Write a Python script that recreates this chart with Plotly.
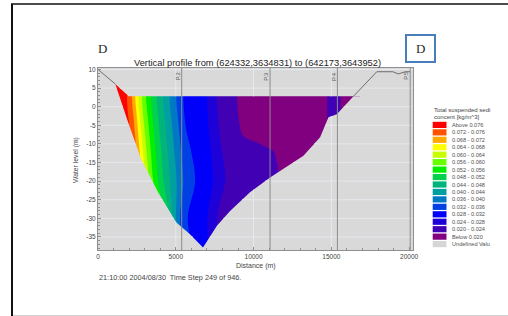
import numpy as np
import plotly.graph_objects as go

# ---------------- data ----------------
# concentration grid (kg/m^3): columns = distance (m), rows = water level (m)
x_grid = [800, 1490, 2060, 2295, 2490, 2690, 2940, 3235, 3575, 3965, 4395, 4820, 5250, 5660,
          6850, 7300, 7845, 8640, 9335, 10425, 11420, 12410, 13405, 14400, 14895, 15390, 15890, 16880]
y_grid = [-39, -30, -20, -12, -5, 2.8, 8]

conc_m39 = [0.082, 0.082, 0.080, 0.078, 0.0765, 0.074, 0.070, 0.066, 0.062, 0.056, 0.050, 0.044, 0.038, 0.0335,
            0.0295, 0.0268, 0.0230, 0.0220, 0.0215, 0.0210, 0.0210, 0.0205, 0.019, 0.019, 0.021, 0.021, 0.0185, 0.018]
conc_m30 = [0.082, 0.082, 0.080, 0.078, 0.0765, 0.074, 0.070, 0.066, 0.062, 0.056, 0.050, 0.0431, 0.0362, 0.0323,
            0.0290, 0.0265, 0.0228, 0.0220, 0.0215, 0.0210, 0.0210, 0.0205, 0.019, 0.019, 0.021, 0.021, 0.0185, 0.018]
conc_m20 = [0.082, 0.082, 0.080, 0.078, 0.0762, 0.0709, 0.0662, 0.0604, 0.0555, 0.0506, 0.0462, 0.0422, 0.0382, 0.0343,
            0.0296, 0.0285, 0.0254, 0.0221, 0.0215, 0.0210, 0.0205, 0.019, 0.018, 0.018, 0.021, 0.021, 0.0185, 0.018]
conc_m12 = [0.082, 0.082, 0.078, 0.0762, 0.0717, 0.0678, 0.063, 0.0582, 0.0535, 0.049, 0.0448, 0.0408, 0.0368, 0.033,
            0.0294, 0.0279, 0.0244, 0.0219, 0.0212, 0.0206, 0.0199, 0.018, 0.017, 0.018, 0.021, 0.021, 0.0185, 0.018]
conc_m5 = [0.082, 0.081, 0.0756, 0.0726, 0.069, 0.065, 0.0604, 0.0562, 0.0518, 0.0475, 0.0434, 0.0394, 0.0354, 0.0318,
           0.0292, 0.0270, 0.0235, 0.0217, 0.0192, 0.0185, 0.0168, 0.016, 0.017, 0.018, 0.021, 0.021, 0.0185, 0.018]
conc_surface = [0.082, 0.080, 0.074, 0.070, 0.066, 0.062, 0.058, 0.054, 0.050, 0.046, 0.042, 0.038, 0.034, 0.0305,
                0.0290, 0.0260, 0.0225, 0.0215, 0.018, 0.017, 0.016, 0.016, 0.017, 0.018, 0.021, 0.021, 0.0185, 0.018]
conc_p8 = [0.084, 0.082, 0.0765, 0.0715, 0.067, 0.063, 0.059, 0.055, 0.051, 0.047, 0.043, 0.039, 0.035, 0.031,
           0.029, 0.026, 0.0225, 0.0215, 0.018, 0.017, 0.016, 0.016, 0.017, 0.018, 0.021, 0.021, 0.0185, 0.018]

# contour classes
level_start, level_end, level_step = 0.020, 0.076, 0.004
band_colors = ['#800080', '#4200b4', '#1e00d8', '#0000fa', '#0040e4', '#0078c4', '#00a0a0', '#00b47c',
               '#00d24c', '#00f000', '#66ff00', '#c8ff00', '#ffff00', '#ffa800', '#ff5200', '#ff0000']
legend_labels = ['Above 0.076', '0.072 - 0.076', '0.068 - 0.072', '0.064 - 0.068', '0.060 - 0.064',
                 '0.056 - 0.060', '0.052 - 0.056', '0.048 - 0.052', '0.044 - 0.048', '0.040 - 0.044',
                 '0.036 - 0.040', '0.032 - 0.036', '0.028 - 0.032', '0.024 - 0.028', '0.020 - 0.024',
                 'Below 0.020', 'Undefined Valu']
undefined_color = '#d6d6d6'

# wetted section: bed from left tip, down to deepest point, up to right waterline
bed_x = [1112, 1936, 2780, 3863, 5035, 5898, 6752, 7646, 8490, 9771, 11062, 13207, 14279, 14815, 15352, 16424]
bed_y = [6.1, -4.2, -14.1, -23.0, -31.1, -34.2, -37.8, -32.0, -28.0, -23.0, -19.0, -13.2, -8.2, -2.8, -2.0, 2.8]
top_x = [1112, 1976, 16424]
top_y = [6.1, 2.8, 2.8]
# dry banks
shore_left_x = [0, 1112]
shore_left_y = [10.0, 6.1]
shore_right_x = [16424, 17923, 18960, 19300, 19760, 20070]
shore_right_y = [2.8, 9.4, 9.4, 8.8, 9.4, 9.4]

# profile points
p_x = [5380, 11060, 15390, 20070]
p_names = ['P.2', 'P.3', 'P.4', 'P.5']

x_ticks = [0, 5000, 10000, 15000, 20000]
y_ticks = [-35, -30, -25, -20, -15, -10, -5, 0, 5, 10]
x_range = [0, 20250]
y_range = [-38.5, 10.4]

title_text = 'Vertical profile from (624332,3634831) to (642173,3643952)'
time_text = '21:10:00 2004/08/30  Time Step 249 of 946.'

# ---------------- layout geometry (pixels) ----------------
L, T, W, H = 98, 68, 315, 182
FIG_W, FIG_H = 508, 316
BG = '#d9d9d9'
GRID = '#e6e8ef'


def fx(px):
    return (px - L) / W


def fy(py):
    return (T + H - py) / H


fig = go.Figure()

# concentration field
z = [conc_m39, conc_m30, conc_m20, conc_m12, conc_m5, conc_surface, conc_p8]
n = len(band_colors)
colorscale = [[k / (n - 1), c] for k, c in enumerate(band_colors)]
fig.add_trace(go.Contour(
    x=x_grid, y=y_grid, z=z,
    autocontour=False,
    contours=dict(start=level_start, end=level_end + level_step / 40, size=level_step,
                  coloring='fill', showlines=False),
    colorscale=colorscale, showscale=False, line=dict(width=0),
    hoverinfo='skip'))

# mask everything outside the wetted section
bi = int(np.argmin(bed_y))
lb_x, lb_y = bed_x[:bi + 1], bed_y[:bi + 1]
rb_x, rb_y = bed_x[bi:], bed_y[bi:]
far_x0, far_x1 = x_range[0] - 3000, x_range[1] + 3000
far_y0, far_y1 = y_range[0] - 10, y_range[1] + 10

maskA_x = [far_x0, far_x0, far_x1, far_x1] + top_x[::-1] + lb_x[1:] + [bed_x[bi] + 150]
maskA_y = [far_y0, far_y1, far_y1, top_y[-1]] + top_y[::-1] + lb_y[1:] + [far_y0]
maskB_x = [bed_x[bi] - 150] + rb_x + [far_x1, far_x1]
maskB_y = [far_y0] + rb_y + [top_y[-1], far_y0]
for mx, my in [(maskA_x, maskA_y), (maskB_x, maskB_y)]:
    fig.add_trace(go.Scatter(x=mx, y=my, fill='toself', fillcolor=BG, mode='lines',
                             line=dict(width=0, color=BG), hoverinfo='skip'))

# grid lines outside the wetted section
gx, gy = [], []
lb_yi, lb_xi = lb_y[::-1], lb_x[::-1]
for yv in y_ticks:
    if yv > top_y[0] or yv < min(bed_y):
        segs = [(x_range[0], x_range[1])]
    else:
        xl = float(np.interp(yv, lb_yi, lb_xi))
        if yv > top_y[-1]:
            xr = float(np.interp(yv, top_y[1::-1], top_x[1::-1]))
        else:
            xr = float(np.interp(yv, rb_y, rb_x))
        segs = [(x_range[0], xl), (xr, x_range[1])]
    for a, b in segs:
        gx += [a, b, None]
        gy += [yv, yv, None]
for xv in x_ticks[1:-1]:
    if bed_x[0] < xv < bed_x[-1]:
        yb = float(np.interp(xv, lb_xi[::-1], lb_yi[::-1])) if xv <= bed_x[bi] else float(np.interp(xv, rb_x, rb_y))
        yt = float(np.interp(xv, top_x, top_y))
        segs = [(y_range[0], yb), (yt, y_range[1])]
    else:
        segs = [(y_range[0], y_range[1])]
    for a, b in segs:
        gx += [xv, xv, None]
        gy += [a, b, None]
fig.add_trace(go.Scatter(x=gx, y=gy, mode='lines', line=dict(color=GRID, width=1),
                         hoverinfo='skip'))

# dry bank profile
for sx, sy in [(shore_left_x, shore_left_y), (shore_right_x, shore_right_y)]:
    fig.add_trace(go.Scatter(x=sx, y=sy, mode='lines', line=dict(color='#6e6e6e', width=1),
                             hoverinfo='skip'))

shapes = []
annotations = []

# profile point lines and labels
for px_, name in zip(p_x, p_names):
    shapes.append(dict(type='line', xref='x', yref='paper', x0=px_, x1=px_, y0=0, y1=1,
                       line=dict(color='#8c8c8c', width=1), layer='above'))
    annotations.append(dict(x=px_ - 230, y=8.2, xref='x', yref='y', text=name, showarrow=False,
                            textangle=-90, font=dict(size=5.8, color='#555555', family='Arial')))

# titles / texts
annotations += [
    dict(x=fx(257), y=fy(63), xref='paper', yref='paper', text=title_text, showarrow=False,
         font=dict(size=9.3, color='#222222', family='Arial'), xanchor='center', yanchor='middle'),
    dict(x=fx(255.5), y=fy(266), xref='paper', yref='paper', text='Distance (m)', showarrow=False,
         font=dict(size=7, color='#444444', family='Arial'), xanchor='center', yanchor='middle'),
    dict(x=fx(76), y=fy(160), xref='paper', yref='paper', text='Water level (m)', showarrow=False,
         textangle=-90, font=dict(size=6.8, color='#444444', family='Arial'),
         xanchor='center', yanchor='middle'),
    dict(x=fx(97), y=fy(277), xref='paper', yref='paper', text=time_text, showarrow=False,
         font=dict(size=7.3, color='#444444', family='Arial'), xanchor='left', yanchor='middle'),
    dict(x=fx(102), y=fy(48.5), xref='paper', yref='paper', text='D', showarrow=False,
         font=dict(size=13, color='#2a2a2a', family='Liberation Serif'), xanchor='center', yanchor='middle'),
    dict(x=fx(420.5), y=fy(48.5), xref='paper', yref='paper', text='D', showarrow=False,
         font=dict(size=13, color='#2a2a2a', family='Liberation Serif'), xanchor='center', yanchor='middle'),
    dict(x=fx(432), y=fy(110), xref='paper', yref='paper', text='Total suspended sedi', showarrow=False,
         font=dict(size=6, color='#444444', family='Arial'), xanchor='left', yanchor='middle'),
    dict(x=fx(432), y=fy(116.5), xref='paper', yref='paper', text='concent [kg/m^3]', showarrow=False,
         font=dict(size=6, color='#444444', family='Arial'), xanchor='left', yanchor='middle'),
]

# legend boxes
legend_colors = band_colors[::-1] + [undefined_color]
for i, (lab, col) in enumerate(zip(legend_labels, legend_colors)):
    top = 121.8 + 7.45 * i
    bot = top + 6.2
    shapes.append(dict(type='rect', xref='paper', yref='paper', x0=fx(432.7), x1=fx(446.5),
                       y0=fy(bot), y1=fy(top), fillcolor=col, line=dict(width=0), layer='above'))
    annotations.append(dict(x=fx(450), y=fy((top + bot) / 2), xref='paper', yref='paper', text=lab,
                            showarrow=False, xanchor='left', yanchor='middle',
                            font=dict(size=5.6, color='#505050', family='Arial')))

# boxed D and the outer frame
shapes.append(dict(type='rect', xref='paper', yref='paper', x0=fx(406), x1=fx(435), y0=fy(62), y1=fy(35),
                   line=dict(color='#4a7ebb', width=2), fillcolor='rgba(0,0,0,0)', layer='above'))
shapes.append(dict(type='line', xref='paper', yref='paper', x0=fx(12), x1=fx(12), y0=fy(4), y1=fy(330),
                   line=dict(color='#111111', width=2), layer='above'))
shapes.append(dict(type='line', xref='paper', yref='paper', x0=fx(11), x1=fx(540), y0=fy(4), y1=fy(4),
                   line=dict(color='#111111', width=1.5), layer='above'))
shapes.append(dict(type='line', xref='paper', yref='paper', x0=fx(13), x1=fx(540), y0=fy(315.5), y1=fy(315.5),
                   line=dict(color='#d0d0d0', width=1), layer='above'))

axis_common = dict(showgrid=False, zeroline=False, showline=True, mirror=True, linecolor='#8f8f8f',
                   linewidth=1, ticks='inside', ticklen=3, tickcolor='#8f8f8f',
                   tickfont=dict(size=6.5, color='#444444', family='Arial'))
fig.update_layout(
    width=FIG_W, height=FIG_H,
    margin=dict(l=L, r=FIG_W - L - W, t=T, b=FIG_H - T - H, pad=0),
    paper_bgcolor='white', plot_bgcolor=BG,
    showlegend=False, hovermode=False,
    shapes=shapes, annotations=annotations,
    xaxis=dict(range=x_range, tickvals=x_ticks, ticktext=[str(v) for v in x_ticks],
               minor=dict(ticks='inside', dtick=1000, ticklen=2, tickcolor='#8f8f8f', showgrid=False),
               **axis_common),
    yaxis=dict(range=y_range, tickvals=y_ticks, ticktext=[str(v) for v in y_ticks],
               minor=dict(ticks='inside', dtick=1, ticklen=2, tickcolor='#8f8f8f', showgrid=False),
               **axis_common),
)

# remove the default page margin so the 508x316 figure fills the window exactly
fig.write_html('out.html', config={'displayModeBar': False, 'staticPlot': True},
               post_script="document.body.style.margin='0px';document.body.style.overflow='hidden';")
